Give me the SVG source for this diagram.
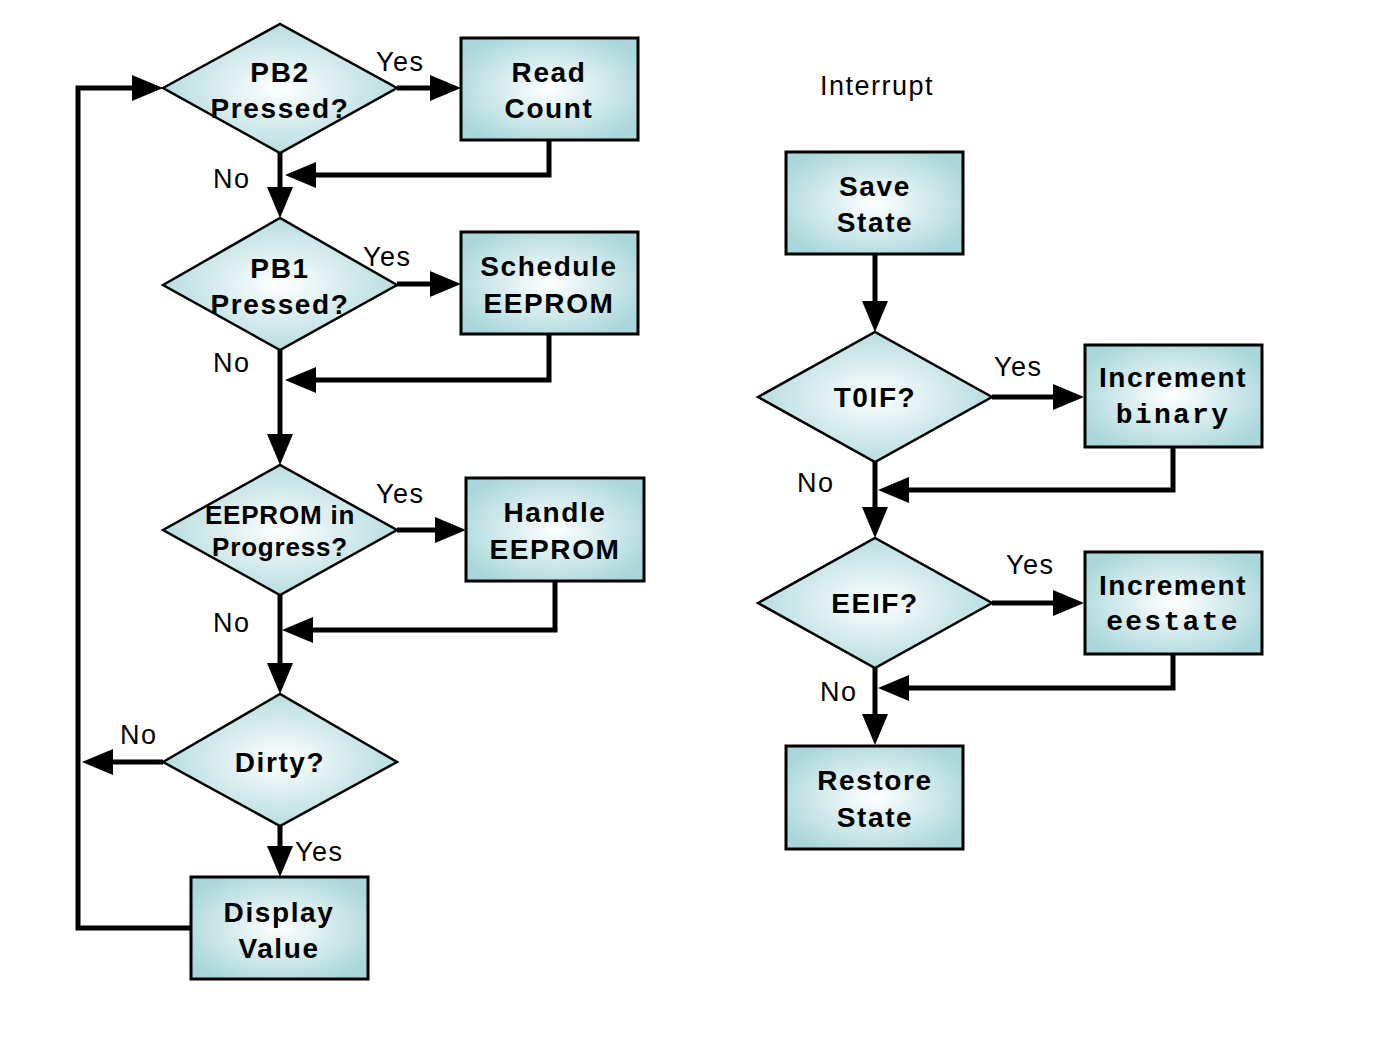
<svg xmlns="http://www.w3.org/2000/svg" width="1400" height="1050" viewBox="0 0 1400 1050">
<style>
.node{stroke:#000;stroke-width:2.5}
.box{stroke:#000;stroke-width:3}
.t{font-family:"Liberation Sans",Arial,sans-serif;font-weight:bold;font-size:28px;letter-spacing:1.6px;text-anchor:middle;fill:#000}
.s{font-size:26px;letter-spacing:0.8px}
.m{font-family:"Liberation Mono","Courier New",monospace;font-weight:bold;font-size:28px;letter-spacing:2.3px;text-anchor:middle;fill:#000}
.l{font-family:"Liberation Sans",Arial,sans-serif;font-size:27px;letter-spacing:1.5px;fill:#000}
.c{fill:none;stroke:#000;stroke-width:5;marker-end:url(#ah)}
.cn{fill:none;stroke:#000;stroke-width:5}
</style>
<defs>
<radialGradient id="g" cx="50%" cy="50%" r="60%">
<stop offset="0" stop-color="#ffffff"/>
<stop offset="1" stop-color="#a8d6da"/>
</radialGradient>
<marker id="ah" markerUnits="userSpaceOnUse" markerWidth="32" markerHeight="26" refX="3" refY="13" orient="auto">
<path d="M0,0 L31,13 L0,26 z" fill="#000"/>
</marker>
</defs>
<rect width="1400" height="1050" fill="#fff"/>
<g id="connectors">
<path class="c" d="M397,88 H433"/>
<path class="c" d="M549,140 V175 H313"/>
<path class="c" d="M280,153 V190"/>
<path class="c" d="M397,284 H433"/>
<path class="c" d="M549,334 V380 H313"/>
<path class="c" d="M280,350 V437"/>
<path class="c" d="M397,530 H438"/>
<path class="c" d="M555,581 V630 H310"/>
<path class="c" d="M280,595 V666"/>
<path class="c" d="M163,762 H110"/>
<path class="c" d="M280,826 V849"/>
<path class="c" d="M191,928 H78 V88 H135"/>
<path class="c" d="M875,254 V304"/>
<path class="c" d="M992,397 H1056"/>
<path class="c" d="M1173,447 V490 H906"/>
<path class="c" d="M875,462 V510"/>
<path class="c" d="M992,603 H1056"/>
<path class="c" d="M1173,654 V688 H906"/>
<path class="c" d="M875,668 V717"/>
</g>
<g id="pb2">
<polygon class="node" fill="url(#g)" points="163,88 280,24 397,88 280,153"/>
<text class="t" x="280" y="82">PB2</text>
<text class="t" x="280" y="118">Pressed?</text>
</g>
<g id="readcount">
<rect class="box" fill="url(#g)" x="461" y="38" width="177" height="102"/>
<text class="t" x="549" y="82">Read</text>
<text class="t" x="549" y="118">Count</text>
</g>
<g id="pb1">
<polygon class="node" fill="url(#g)" points="163,285 280,218 397,285 280,350"/>
<text class="t" x="280" y="278">PB1</text>
<text class="t" x="280" y="314">Pressed?</text>
</g>
<g id="schedule">
<rect class="box" fill="url(#g)" x="461" y="232" width="177" height="102"/>
<text class="t" x="549" y="276">Schedule</text>
<text class="t" x="549" y="313">EEPROM</text>
</g>
<g id="inprogress">
<polygon class="node" fill="url(#g)" points="163,530 280,465 397,530 280,595"/>
<text class="t s" x="280" y="524">EEPROM in</text>
<text class="t s" x="280" y="556">Progress?</text>
</g>
<g id="handle">
<rect class="box" fill="url(#g)" x="466" y="478" width="178" height="103"/>
<text class="t" x="555" y="522">Handle</text>
<text class="t" x="555" y="559">EEPROM</text>
</g>
<g id="dirty">
<polygon class="node" fill="url(#g)" points="163,762 280,694 397,762 280,826"/>
<text class="t" x="280" y="772">Dirty?</text>
</g>
<g id="display">
<rect class="box" fill="url(#g)" x="191" y="877" width="177" height="102"/>
<text class="t" x="279" y="922">Display</text>
<text class="t" x="279" y="958">Value</text>
</g>
<g id="savestate">
<rect class="box" fill="url(#g)" x="786" y="152" width="177" height="102"/>
<text class="t" x="875" y="196">Save</text>
<text class="t" x="875" y="232">State</text>
</g>
<g id="t0if">
<polygon class="node" fill="url(#g)" points="758,397 875,332 992,397 875,462"/>
<text class="t" x="875" y="407">T0IF?</text>
</g>
<g id="incbinary">
<rect class="box" fill="url(#g)" x="1085" y="345" width="177" height="102"/>
<text class="t" x="1173" y="387">Increment</text>
<text class="m" x="1173" y="423">binary</text>
</g>
<g id="eeif">
<polygon class="node" fill="url(#g)" points="758,603 875,538 992,603 875,668"/>
<text class="t" x="875" y="613">EEIF?</text>
</g>
<g id="inceestate">
<rect class="box" fill="url(#g)" x="1085" y="552" width="177" height="102"/>
<text class="t" x="1173" y="595">Increment</text>
<text class="m" x="1173" y="630">eestate</text>
</g>
<g id="restore">
<rect class="box" fill="url(#g)" x="786" y="746" width="177" height="103"/>
<text class="t" x="875" y="790">Restore</text>
<text class="t" x="875" y="827">State</text>
</g>
<g id="labels">
<text class="l" x="376" y="71">Yes</text>
<text class="l" x="213" y="188">No</text>
<text class="l" x="363" y="266">Yes</text>
<text class="l" x="213" y="372">No</text>
<text class="l" x="376" y="503">Yes</text>
<text class="l" x="213" y="632">No</text>
<text class="l" x="120" y="744">No</text>
<text class="l" x="295" y="861">Yes</text>
<text class="l" x="820" y="95">Interrupt</text>
<text class="l" x="994" y="376">Yes</text>
<text class="l" x="797" y="492">No</text>
<text class="l" x="1006" y="574">Yes</text>
<text class="l" x="820" y="701">No</text>
</g>
</svg>
